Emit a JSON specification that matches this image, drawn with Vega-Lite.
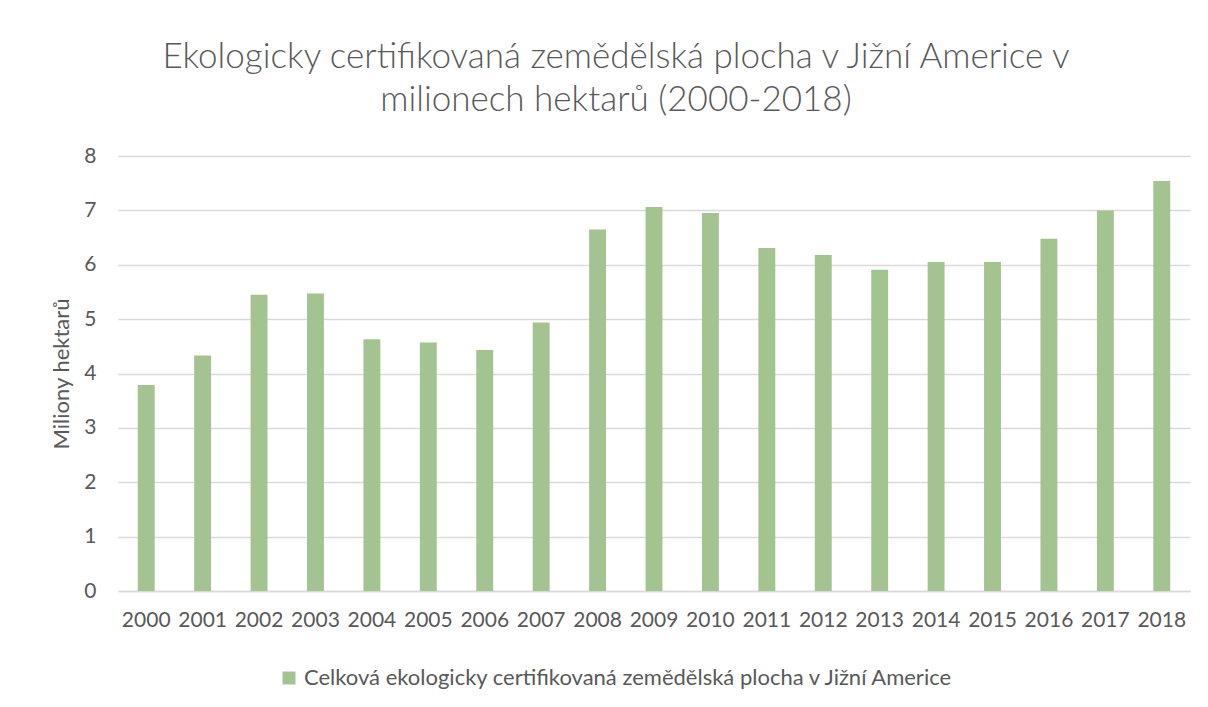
{
  "$schema": "https://vega.github.io/schema/vega-lite/v6.json",
  "width": 1072,
  "height": 435,
  "autosize": {"type": "none"},
  "padding": {"left": 118, "top": 156, "right": 18, "bottom": 116},
  "background": "white",
  "title": {
    "text": ["Ekologicky certifikovaná zemědělská plocha v Jižní Americe v", "milionech hektarů (2000-2018)"],
    "anchor": "middle",
    "frame": "group",
    "dx": -38,
    "offset": 27,
    "font": "Lato",
    "fontSize": 35,
    "fontWeight": 300,
    "color": "#595959",
    "lineHeight": 43
  },
  "data": {
    "values": [
      {"year": "2000", "value": 3.79, "series": "Celková ekologicky certifikovaná zemědělská plocha v Jižní Americe"},
      {"year": "2001", "value": 4.33, "series": "Celková ekologicky certifikovaná zemědělská plocha v Jižní Americe"},
      {"year": "2002", "value": 5.45, "series": "Celková ekologicky certifikovaná zemědělská plocha v Jižní Americe"},
      {"year": "2003", "value": 5.47, "series": "Celková ekologicky certifikovaná zemědělská plocha v Jižní Americe"},
      {"year": "2004", "value": 4.63, "series": "Celková ekologicky certifikovaná zemědělská plocha v Jižní Americe"},
      {"year": "2005", "value": 4.57, "series": "Celková ekologicky certifikovaná zemědělská plocha v Jižní Americe"},
      {"year": "2006", "value": 4.43, "series": "Celková ekologicky certifikovaná zemědělská plocha v Jižní Americe"},
      {"year": "2007", "value": 4.94, "series": "Celková ekologicky certifikovaná zemědělská plocha v Jižní Americe"},
      {"year": "2008", "value": 6.65, "series": "Celková ekologicky certifikovaná zemědělská plocha v Jižní Americe"},
      {"year": "2009", "value": 7.06, "series": "Celková ekologicky certifikovaná zemědělská plocha v Jižní Americe"},
      {"year": "2010", "value": 6.95, "series": "Celková ekologicky certifikovaná zemědělská plocha v Jižní Americe"},
      {"year": "2011", "value": 6.31, "series": "Celková ekologicky certifikovaná zemědělská plocha v Jižní Americe"},
      {"year": "2012", "value": 6.18, "series": "Celková ekologicky certifikovaná zemědělská plocha v Jižní Americe"},
      {"year": "2013", "value": 5.91, "series": "Celková ekologicky certifikovaná zemědělská plocha v Jižní Americe"},
      {"year": "2014", "value": 6.05, "series": "Celková ekologicky certifikovaná zemědělská plocha v Jižní Americe"},
      {"year": "2015", "value": 6.05, "series": "Celková ekologicky certifikovaná zemědělská plocha v Jižní Americe"},
      {"year": "2016", "value": 6.48, "series": "Celková ekologicky certifikovaná zemědělská plocha v Jižní Americe"},
      {"year": "2017", "value": 7.0, "series": "Celková ekologicky certifikovaná zemědělská plocha v Jižní Americe"},
      {"year": "2018", "value": 7.54, "series": "Celková ekologicky certifikovaná zemědělská plocha v Jižní Americe"}
    ]
  },
  "mark": {"type": "bar"},
  "encoding": {
    "x": {
      "field": "year",
      "type": "nominal",
      "scale": {"paddingInner": 0.7, "paddingOuter": 0.35},
      "axis": {
        "title": null,
        "labelAngle": 0,
        "labelFont": "Lato",
        "labelFontSize": 21,
        "labelColor": "#595959",
        "labelPadding": 18,
        "ticks": false,
        "domainColor": "#d9d9d9",
        "domainWidth": 1.5
      }
    },
    "y": {
      "field": "value",
      "type": "quantitative",
      "scale": {"domain": [0, 8], "nice": false},
      "axis": {
        "title": "Miliony hektarů",
        "titleFont": "Lato",
        "titleFontSize": 22,
        "titleFontWeight": "normal",
        "titleColor": "#595959",
        "titlePadding": 10,
        "values": [0, 1, 2, 3, 4, 5, 6, 7, 8],
        "labelFont": "Lato",
        "labelFontSize": 21,
        "labelColor": "#595959",
        "labelPadding": 22,
        "ticks": false,
        "domain": false,
        "gridColor": "#d9d9d9",
        "gridWidth": 1.5
      }
    },
    "color": {
      "field": "series",
      "type": "nominal",
      "scale": {"range": ["#a3c490"]},
      "legend": {
        "title": null,
        "orient": "none",
        "legendX": 160,
        "legendY": 511,
        "symbolType": "square",
        "symbolSize": 169,
        "symbolStrokeWidth": 0,
        "labelFont": "Lato",
        "labelFontSize": 22,
        "labelColor": "#595959",
        "labelLimit": 1000
      }
    }
  },
  "config": {"view": {"stroke": null}}
}
